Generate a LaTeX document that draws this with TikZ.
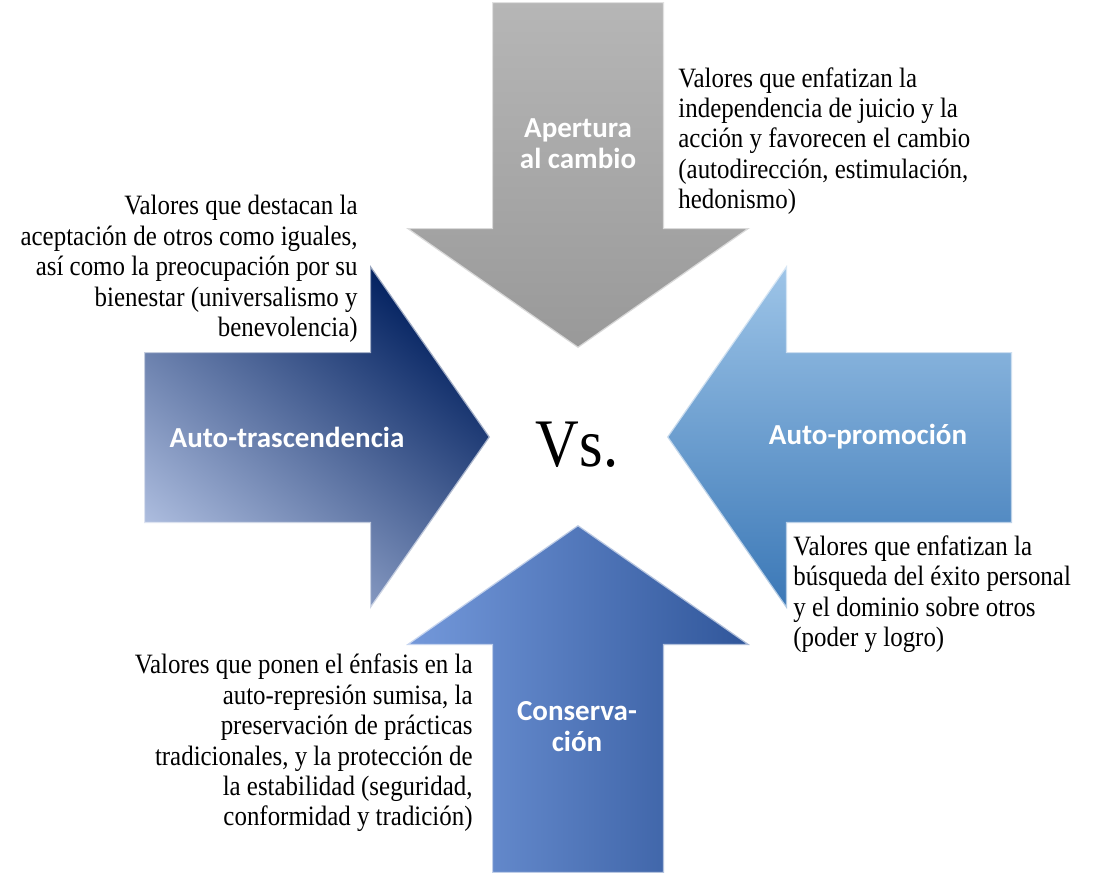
\documentclass[tikz,border=0pt]{standalone}
\usepackage{fontspec}
\setmainfont[FakeStretch=0.89]{Liberation Serif}
\newfontfamily\labelfont{Carlito}

\definecolor{grayhi}{HTML}{B6B6B6}
\definecolor{graylo}{HTML}{999999}
\definecolor{navydark}{HTML}{001F5E}
\definecolor{navymid}{HTML}{1A3473}
\definecolor{navylight}{HTML}{ABBBDD}
\definecolor{skyhi}{HTML}{9EC5E8}
\definecolor{skylo}{HTML}{3A77B6}
\definecolor{royleft}{HTML}{7499DB}
\definecolor{roymid}{HTML}{4A77C5}
\definecolor{royright}{HTML}{30569A}

\begin{document}
\begin{tikzpicture}[x=0.5pt,y=-0.5pt,
    every node/.style={inner sep=0pt},
    bevel/.style={draw=white,draw opacity=0.6,line width=1.2pt,line join=miter},
    desc/.style={font=\fontsize{14}{15.2}\selectfont},
    lbl/.style={text=white,align=center,font=\labelfont\bfseries\fontsize{14.5}{15.5}\selectfont}]
    \useasboundingbox (0,0) rectangle (1094,873);

    % Define coordinates
    \coordinate (c) at (578,437);

    % Draw the four arrows
    \shade[bevel,top color=grayhi,bottom color=graylo]
        (492,2) -- (664,2) -- (664,228) -- (750,228) -- (578,348)
        -- (406,228) -- (492,228) -- cycle;
    \shade[bevel,top color=navydark,middle color=navymid,bottom color=navylight,shading angle=-40]
        (144,352) -- (370,352) -- (370,265) -- (490,437) -- (370,609)
        -- (370,523) -- (144,523) -- cycle;
    \shade[bevel,top color=skyhi,bottom color=skylo]
        (1012,352) -- (787,352) -- (787,265) -- (667,437) -- (787,609)
        -- (787,523) -- (1012,523) -- cycle;
    \shade[bevel,left color=royleft,middle color=roymid,right color=royright]
        (492,873) -- (492,645) -- (406,645) -- (578,525) -- (750,645)
        -- (664,645) -- (664,873) -- cycle;

    % Labels on the arrows
    \node[lbl] (apertura) at (578,144) {Apertura\\al cambio};
    \node[lbl] (trasc) at (287,437) {Auto-trascendencia};
    \node[lbl] (promo) at (868,437) {Auto-promoción};
    \node[lbl] (conserv) at (577,727) {Conserva-\\ción};

    % Centre
    \node[anchor=base,font=\fontsize{34}{36}\selectfont] (vs) at (577,466) {Vs.};

    % Add texts
    \node[desc,align=left,anchor=west] (txtapertura) at (678,141)
        {Valores que enfatizan la\\independencia de juicio y la\\acción y favorecen el cambio\\(autodirección, estimulación,\\hedonismo)};
    \node[desc,align=right,anchor=east] (txttrasc) at (358,269)
        {Valores que destacan la\\aceptación de otros como iguales,\\así como la preocupación por su\\bienestar (universalismo y\\benevolencia)};
    \node[desc,align=left,anchor=west] (txtpromo) at (793,594)
        {Valores que enfatizan la\\búsqueda del éxito personal\\y el dominio sobre otros\\(poder y logro)};
    \node[desc,align=right,anchor=east] (txtconserv) at (473,743)
        {Valores que ponen el énfasis en la\\auto-represión sumisa, la\\preservación de prácticas\\tradicionales, y la protección de\\la estabilidad (seguridad,\\conformidad y tradición)};
\end{tikzpicture}
\end{document}
